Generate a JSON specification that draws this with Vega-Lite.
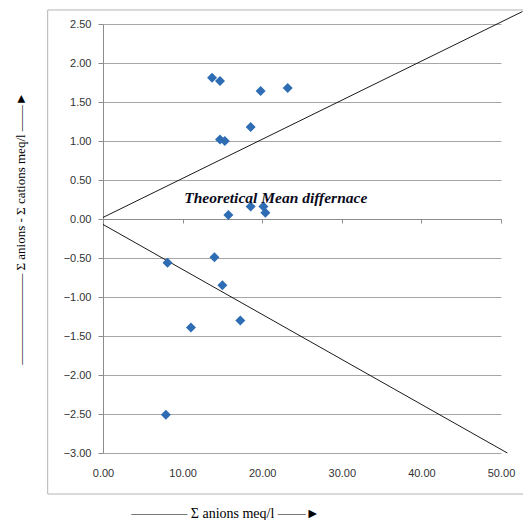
{
  "$schema": "https://vega.github.io/schema/vega-lite/v6.json",
  "width": 398,
  "height": 429,
  "autosize": {"type": "none"},
  "padding": {"left": 103, "top": 24, "right": 22, "bottom": 67},
  "background": "white",
  "config": {"view": {"stroke": null}},
  "datasets": {
    "points": [
      {"x": 13.7, "y": 1.81}, {"x": 14.7, "y": 1.77}, {"x": 19.8, "y": 1.64}, {"x": 23.2, "y": 1.68},
      {"x": 18.55, "y": 1.18}, {"x": 14.7, "y": 1.02}, {"x": 15.3, "y": 1.0}, {"x": 15.75, "y": 0.05},
      {"x": 18.55, "y": 0.16}, {"x": 20.15, "y": 0.16}, {"x": 20.4, "y": 0.08}, {"x": 14.0, "y": -0.49},
      {"x": 8.1, "y": -0.56}, {"x": 15.0, "y": -0.85}, {"x": 11.05, "y": -1.39}, {"x": 17.25, "y": -1.3},
      {"x": 7.9, "y": -2.51}
    ],
    "lines": [
      {"line": "upper", "x": 0, "y": 0.02}, {"line": "upper", "x": 52.7, "y": 2.66},
      {"line": "lower", "x": 0, "y": -0.07}, {"line": "lower", "x": 50.8, "y": -3.0}
    ],
    "border": [{"x": -6.95, "x2": 53.5, "y": 2.68, "y2": -3.526}],
    "label": [{"x": 21.7, "y": 0.2, "text": "Theoretical Mean differnace"}]
  },
  "layer": [
    {
      "data": {"name": "border"},
      "mark": {"type": "rect", "filled": false, "stroke": "#b4b4b4", "strokeWidth": 1},
      "encoding": {
        "x": {"field": "x", "type": "quantitative", "scale": {"domain": [0, 50], "nice": false, "zero": false},
          "axis": {
            "orient": "bottom", "offset": -234, "values": [0, 10, 20, 30, 40, 50], "format": ".2f",
            "grid": false, "domainColor": "#8c8c8c", "tickColor": "#8c8c8c", "tickSize": 4,
            "labelFlush": false, "labelOverlap": false, "labelBound": false,
            "labelPadding": 244, "labelFont": "Liberation Sans", "labelFontSize": 11, "labelColor": "#333333",
            "title": "————   Σ anions meq/l  ——►", "titleFont": "Liberation Serif", "titleFontSize": 14,
            "titleFontWeight": "normal", "titleColor": "#000000", "titleX": 122, "titleY": 294,
            "titleAlign": "center", "titleBaseline": "middle", "titleAnchor": null
          }},
        "x2": {"field": "x2"},
        "y": {"field": "y", "type": "quantitative", "scale": {"domain": [-3, 2.5], "nice": false, "zero": false},
          "axis": {
            "orient": "left", "values": [-3, -2.5, -2, -1.5, -1, -0.5, 0, 0.5, 1, 1.5, 2, 2.5], "tickCount": 12, "format": ".2f",
            "labelOverlap": false, "labelFlush": false, "labelBound": false,
            "grid": true, "gridColor": "#a6a6a6", "gridWidth": 1, "domainColor": "#8c8c8c", "tickColor": "#8c8c8c",
            "tickSize": 5, "labelPadding": 7, "labelFont": "Liberation Sans", "labelFontSize": 11, "labelColor": "#333333",
            "title": "———————   Σ anions - Σ cations  meq/l   ——►", "titleFont": "Liberation Serif", "titleFontSize": 13,
            "titleFontWeight": "normal", "titleColor": "#000000", "titleX": -83, "titleY": 204, "titleAngle": -90,
            "titleAlign": "center", "titleBaseline": "middle", "titleAnchor": null
          }},
        "y2": {"field": "y2"}
      }
    },
    {
      "data": {"name": "lines"},
      "mark": {"type": "line", "color": "#000000", "strokeWidth": 0.9},
      "encoding": {
        "x": {"field": "x", "type": "quantitative"},
        "y": {"field": "y", "type": "quantitative"},
        "detail": {"field": "line"}
      }
    },
    {
      "data": {"name": "points"},
      "mark": {"type": "point", "shape": "diamond", "filled": true, "color": "#2e6db4", "opacity": 1, "size": 100},
      "encoding": {
        "x": {"field": "x", "type": "quantitative"},
        "y": {"field": "y", "type": "quantitative"}
      }
    },
    {
      "data": {"name": "label"},
      "mark": {"type": "text", "font": "Liberation Serif", "fontSize": 15.5, "fontWeight": "bold", "fontStyle": "italic",
        "color": "#0a0a1a", "align": "center", "baseline": "alphabetic"},
      "encoding": {
        "x": {"field": "x", "type": "quantitative"},
        "y": {"field": "y", "type": "quantitative"},
        "text": {"field": "text"}
      }
    }
  ]
}
